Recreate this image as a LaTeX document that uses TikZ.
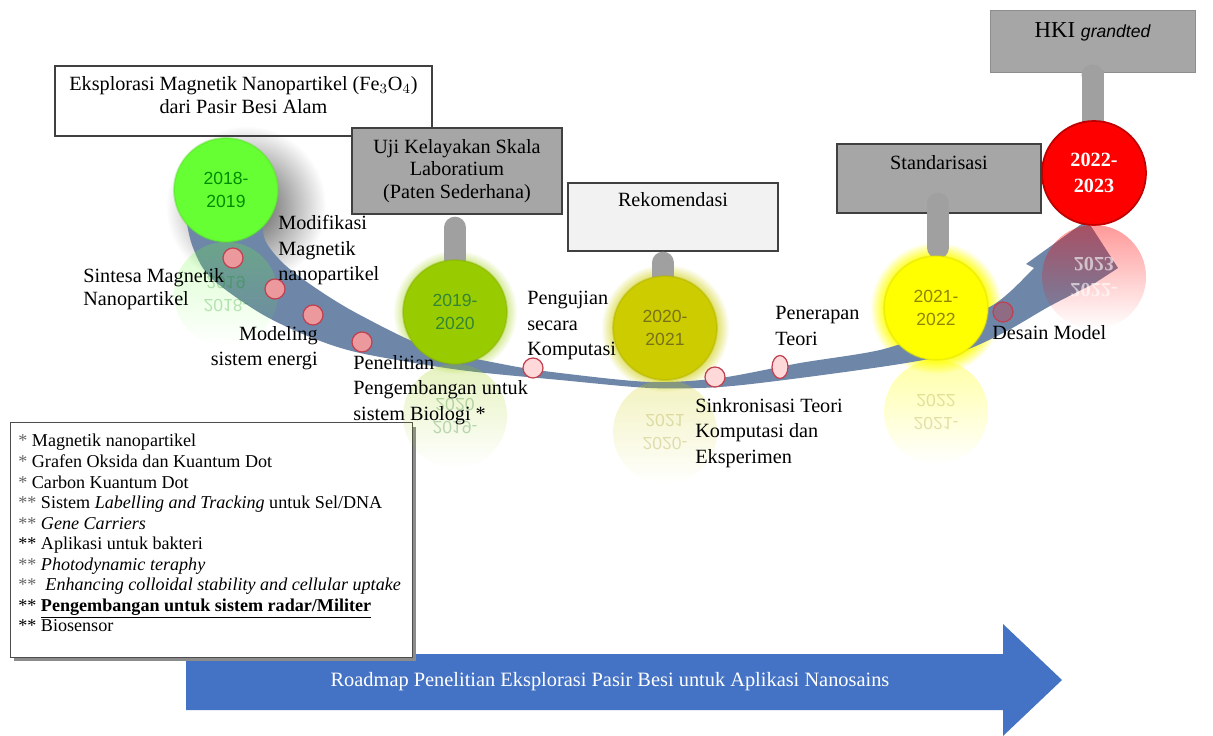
\documentclass[tikz,border=0pt]{standalone}
\usepackage{fontspec}
\setmainfont{Liberation Serif}
\newfontfamily\yearfont{Liberation Sans}
\usetikzlibrary{calc,fadings,shapes.geometric}

\definecolor{boxgray}{HTML}{A6A6A6}
\definecolor{lightbox}{HTML}{F2F2F2}
\definecolor{stemgray}{HTML}{A0A0A0}
\definecolor{bandcol}{HTML}{6E87A8}
\definecolor{roadblue}{HTML}{4472C4}
\definecolor{beadred}{HTML}{C0404F}
\definecolor{cA}{HTML}{66FF33}
\definecolor{cB}{HTML}{99CC00}
\definecolor{cC}{HTML}{CCCC00}
\definecolor{cD}{HTML}{FFFF00}
\definecolor{cE}{HTML}{FF0000}

\tikzfading[name=pudar, inner color=transparent!0, outer color=transparent!100]

\tikzset{
  box/.style={draw=black!75, line width=0.8pt, align=center, inner sep=0pt},
  graybox/.style={box, fill=boxgray},
  stem/.style={draw=stemgray, line width=0.44cm, line cap=round},
  year/.style={circle, minimum size=2.08cm, inner sep=0pt, align=center,
    line width=1pt, font=\yearfont\fontsize{10}{13.6}\selectfont},
  bead/.style={circle, minimum size=0.4cm, inner sep=0pt, draw=beadred,
    line width=0.7pt, fill=pink!70!beadred},
  lbl/.style={align=left, inner sep=0pt, font=\fontsize{11.5}{14.5}\selectfont},
  glow/.style={path fading=circle with fuzzy edge 20 percent},
  refl/.style={opacity=.25, path fading=south},
  refltext/.style={yscale=-1, transform shape, opacity=.25, align=center,
    font=\yearfont\fontsize{10}{13.6}\selectfont},
}

\begin{document}
\begin{tikzpicture}[x=0.02cm, y=-0.02cm]
    \useasboundingbox (0,0) rectangle (1213,736);

    % panah roadmap
    \fill[roadblue] (186,654) -- (1003,654) -- (1003,624) -- (1062,680)
        -- (1003,736) -- (1003,710) -- (186,710) -- cycle;
    \node[text=white, font=\fontsize{11.6}{13}\selectfont] (roadmap) at (610,682)
        {Roadmap Penelitian Eksplorasi Pasir Besi untuk Aplikasi Nanosains};

    % kotak daftar
    \fill[black!45] (14,427) rectangle (416,661);
    \node[draw=black!70, fill=white, minimum width=8.04cm, minimum height=4.7cm] (daftar) at (211,539.5) {};
    \node[anchor=north west, align=left, inner sep=0pt, font=\fontsize{10.3}{11.7}\selectfont] (isi) at (18,434) {%
        {\color{black!60}*} Magnetik nanopartikel\\
        {\color{black!60}*} Grafen Oksida dan Kuantum Dot\\
        {\color{black!60}*} Carbon Kuantum Dot\\
        {\color{black!60}**} Sistem \textit{Labelling and Tracking} untuk Sel/DNA\\
        {\color{black!60}**} \textit{Gene Carriers}\\
        ** Aplikasi untuk bakteri\\
        {\color{black!60}**} \textit{Photodynamic teraphy}\\
        {\color{black!60}**}\ \ \textit{Enhancing colloidal stability and cellular uptake}\\
        ** \textbf{\underline{Pengembangan untuk sistem radar/Militer}}\\
        ** Biosensor};

    % kotak judul
    \node[box, fill=white, minimum width=7.54cm, minimum height=1.4cm] (b1) at (243.5,101) {};
    \node[align=center, font=\fontsize{11.5}{13}\selectfont] (t1) at (243.5,95)
        {Eksplorasi Magnetik Nanopartikel (Fe$_3$O$_4$)\\dari Pasir Besi Alam};
    \node[graybox, minimum width=4.2cm, minimum height=1.72cm,
        font=\fontsize{11.5}{12.8}\selectfont] (b2) at (457,171)
        {Uji Kelayakan Skala\\Laboratium\\(Paten Sederhana)};
    \node[box, fill=lightbox, minimum width=4.2cm, minimum height=1.36cm] (b3) at (673,217) {};
    \node[font=\fontsize{11.5}{13}\selectfont] (t3) at (673,200) {Rekomendasi};
    \node[graybox, minimum width=4.08cm, minimum height=1.38cm] (b4) at (939,178.5) {};
    \node[font=\fontsize{11.5}{13}\selectfont] (t4) at (939,163) {Standarisasi};
    \node[fill=boxgray, draw=boxgray!85!black, line width=0.4pt, minimum width=4.1cm, minimum height=1.24cm] (b5) at (1092.5,41) {};
    \node[font=\fontsize{13}{15}\selectfont] (t5) at (1092.5,32) {HKI {\yearfont\itshape\fontsize{10}{12}\selectfont grandted}};

    % sinar dan bayangan
    \fill[black!70, path fading=pudar] (246,206) circle (80);
    \fill[cB, glow, opacity=.5] (455,312) circle (62);
    \fill[cC, glow, opacity=.6] (665,328) circle (64);
    \fill[cD, glow, opacity=.8] (936,308) circle (66);

    % pita lengkung
    \fill[bandcol] plot[smooth] coordinates {(185,212) (192,245) (210,277) (260,313)
        (310,337) (360,353) (460,370) (560,380) (650,388) (720,387) (800,378)
        (900,364) (960,352) (1005,332) (1050,306) (1095,283)}
        -- (1118,268) -- (1087,220) -- (1026,264)
        -- plot[smooth] coordinates {(1034,268) (1012,290) (993,305) (960,322)
        (940,330) (880,350) (800,363) (720,378) (650,382) (560,373) (507,365)
        (427,347) (360,315) (320,291) (285,265) (265,240) (262,212)} -- cycle;

    % tiang
    \draw[stem] ($(b2.south)+(-2,13)$) -- ($(b2.south)+(-2,44)$);
    \draw[stem] ($(b3.south)+(-10,11)$) -- ($(b3.south)+(-10,24)$);
    \draw[stem] ($(b4.south)+(-1,-10)$) -- ($(b4.south)+(-1,34)$);
    \draw[stem, line cap=butt] ($(b5.south)+(0,-2)$) -- ($(b5.south)+(0,55)$);
    \fill[stemgray] ($(b5.south)+(0,3)$) circle (11);

    % lingkaran tahun
    \node[year, fill=cA, draw=cA!85!black, draw opacity=.4, text=green!55!black] (c1) at (226,190) {2018-\\2019};
    \node[year, fill=cB, draw=cB!85!black, draw opacity=.4, text=green!40!black!80] (c2) at (455,312) {2019-\\2020};
    \node[year, fill=cC, draw=cC!85!black, draw opacity=.4, text=olive!80!black] (c3) at (665,328) {2020-\\2021};
    \node[year, fill=cD, draw=cD!85!black, draw opacity=.4, text=olive] (c4) at (936,308) {2021-\\2022};
    \node[year, fill=cE, draw=cE!75!black, text=white,
        font=\bfseries\fontsize{11.5}{14.5}\selectfont] (c5) at (1094,173) {2022-\\2023};

    % pantulan
    \fill[cA, refl] (226,294) circle (52);
    \fill[cB, refl] (455,416) circle (52);
    \fill[cC, refl] (665,432) circle (52);
    \fill[cD, refl, opacity=.35] (936,412) circle (52);
    \fill[cE, refl, opacity=.4] (1094,277) circle (52);
    \node[refltext, text=green!55!black] (r1) at (226,294) {2018-\\2019};
    \node[refltext, text=green!40!black] (r2) at (455,416) {2019-\\2020};
    \node[refltext, text=olive] (r3) at (665,432) {2020-\\2021};
    \node[refltext, text=olive] (r4) at (936,412) {2021-\\2022};
    \node[refltext, text=white, opacity=.6, font=\bfseries\fontsize{11.5}{14.5}\selectfont] (r5) at (1094,277) {2022-\\2023};

    % titik-titik
    \node[bead] (p1) at (233,258) {};
    \node[bead] (p2) at (275,289) {};
    \node[bead] (p3) at (313,315) {};
    \node[bead] (p4) at (362,342) {};
    \node[bead, fill=pink!60] (p5) at (533,368) {};
    \node[bead, fill=pink!60] (p6) at (715,377) {};
    \node[bead, ellipse, fill=pink!60, minimum width=0.32cm, minimum height=0.46cm] (p7) at (780,367) {};
    \node[bead, fill=bandcol!60!beadred] (p8) at (1003,312) {};

    % keterangan
    \node[lbl, anchor=north west, font=\fontsize{11.5}{13}\selectfont] (sintesa) at (83,268) {Sintesa Magnetik\\Nanopartikel};
    \node[lbl, anchor=north west] (modif) at (278,215) {Modifikasi\\Magnetik\\nanopartikel};
    \node[lbl, anchor=north east, align=right] (model) at (318,326) {Modeling\\sistem energi};
    \node[lbl, anchor=north west] (bio) at (353,355) {Penelitian\\Pengembangan untuk\\sistem Biologi *};
    \node[lbl, anchor=north west] (uji) at (527,291) {Pengujian\\secara\\Komputasi};
    \node[lbl, anchor=north west] (terap) at (775,306) {Penerapan\\Teori};
    \node[lbl, anchor=north west] (sinkron) at (695,398) {Sinkronisasi Teori\\Komputasi dan\\Eksperimen};
    \node[lbl, anchor=north west] (desain) at (992,325) {Desain Model};
\end{tikzpicture}
\end{document}
